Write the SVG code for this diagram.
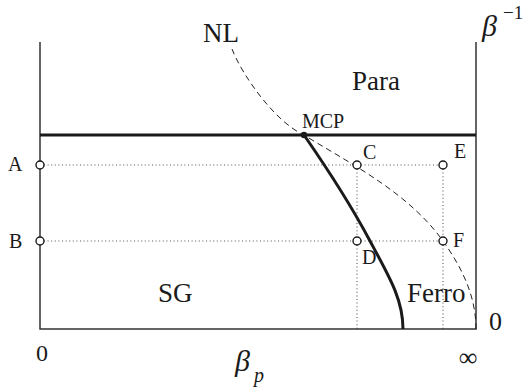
<svg xmlns="http://www.w3.org/2000/svg" width="526" height="387" viewBox="0 0 526 387">
<style>
.t{font-family:'Liberation Serif','Times New Roman',Times,'DejaVu Serif',serif;fill:#1a1a1a}
.big{font-size:27px}
.pt{font-size:20px}
.axis{stroke:#333;stroke-width:1.5;fill:none}
.thick{stroke:#1a1a1a;stroke-width:3;fill:none}
.dot{stroke:#555;stroke-width:1.1;stroke-dasharray:1 2.6;fill:none}
.dash{stroke:#222;stroke-width:1;stroke-dasharray:6 4;fill:none}
.circ{fill:#fff;stroke:#1a1a1a;stroke-width:1.4}
</style>
<g id="connectors">
<path class="dot" d="M44,165 H353 M361,165 H439 M44,241 H353 M361,241 H439"/>
<path class="dot" d="M357,169 V237 M357,245 V329 M443,169 V237 M443,245 V329"/>
<path class="axis" d="M40,42 V329 H476 V42"/>
<path class="thick" d="M40,135 H476"/>
<path class="thick" d="M304,135 C322,161 352,207 370,241 C390,278 403,300 403,329"/>
<path class="dash" d="M232,49 C242,75 275,122 304,135 C349,163 408,192 443,241 C460,265 476,294 476,329"/>
</g>
<g id="MCP"><circle cx="304" cy="135" r="3.2" fill="#1a1a1a"/><text class="t pt" x="302" y="128">MCP</text></g>
<g id="A"><circle class="circ" cx="40" cy="165" r="4"/><text class="t pt" x="8" y="171">A</text></g>
<g id="B"><circle class="circ" cx="40" cy="241" r="4"/><text class="t pt" x="9" y="248">B</text></g>
<g id="C"><circle class="circ" cx="357" cy="165" r="4"/><text class="t pt" x="363" y="159">C</text></g>
<g id="E"><circle class="circ" cx="443" cy="165" r="4"/><text class="t pt" x="454" y="158">E</text></g>
<g id="D"><circle class="circ" cx="357" cy="241" r="4"/><text class="t pt" x="362" y="264">D</text></g>
<g id="F"><circle class="circ" cx="443" cy="241" r="4"/><text class="t pt" x="453" y="247">F</text></g>
<g id="labels">
<text class="t big" x="203" y="42">NL</text>
<text class="t big" x="352" y="90">Para</text>
<text class="t big" x="158" y="302">SG</text>
<text class="t big" x="407" y="302">Ferro</text>
<text class="t" x="36" y="361" font-size="24">0</text>
<text class="t" x="489" y="330" font-size="26">0</text>
<text class="t" x="468" y="366" font-size="26" text-anchor="middle">∞</text>
<text class="t" x="235" y="371" font-size="30" font-style="italic">β</text>
<text class="t" x="254" y="382" font-size="20" font-style="italic">p</text>
<text class="t" x="482" y="36" font-size="30" font-style="italic">β</text>
<text class="t" x="503" y="19" font-size="19">−1</text>
</g>
</svg>
